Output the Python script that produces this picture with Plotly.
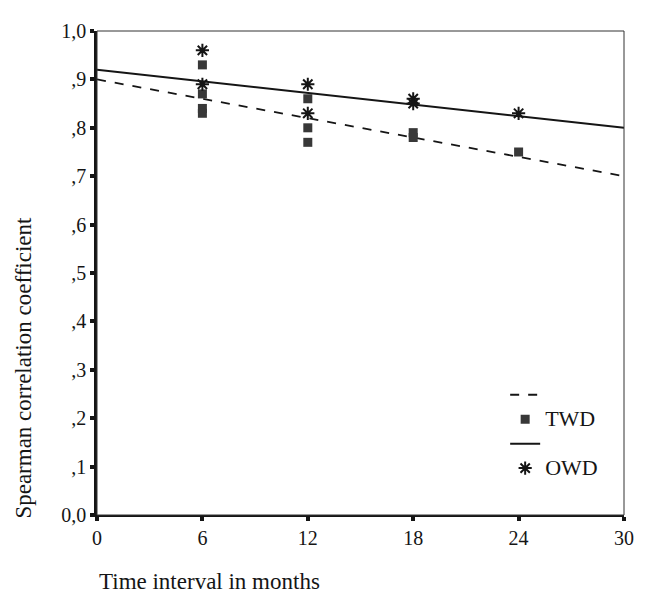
import plotly.graph_objects as go

# Data
twd_x = [6, 6, 6, 6, 12, 12, 12, 18, 18, 24]
twd_y = [0.93, 0.87, 0.84, 0.83, 0.86, 0.80, 0.77, 0.79, 0.78, 0.75]
owd_x = [6, 6, 12, 12, 18, 18, 24]
owd_y = [0.96, 0.89, 0.89, 0.83, 0.86, 0.85, 0.83]
fit_x = [0, 30]
twd_fit_y = [0.90, 0.70]
owd_fit_y = [0.92, 0.80]

x_ticks = [0, 6, 12, 18, 24, 30]
y_ticks = [0.0, 0.1, 0.2, 0.3, 0.4, 0.5, 0.6, 0.7, 0.8, 0.9, 1.0]
y_ticktext = ["0,0", ",1", ",2", ",3", ",4", ",5", ",6", ",7", ",8", ",9", "1,0"]

FONT = "Liberation Serif, Times New Roman, serif"
INK = "#151515"

fig = go.Figure()
fig.add_trace(go.Scatter(x=fit_x, y=twd_fit_y, mode="lines", name=" ",
                         line=dict(color=INK, width=1.8, dash="dash")))
fig.add_trace(go.Scatter(x=twd_x, y=twd_y, mode="markers",
                         name='<span style="font-size:22px">TWD</span>',
                         marker=dict(symbol="square", size=9, color="#383838",
                                     line=dict(width=0))))
fig.add_trace(go.Scatter(x=fit_x, y=owd_fit_y, mode="lines", name="  ",
                         line=dict(color=INK, width=2)))
fig.add_trace(go.Scatter(x=owd_x, y=owd_y, mode="markers",
                         name='<span style="font-size:22px">OWD</span>',
                         marker=dict(symbol="asterisk-open", size=11, color=INK,
                                     line=dict(width=2, color=INK))))

fig.update_layout(
    width=638, height=592,
    margin=dict(l=89, r=17, t=14, b=85),
    paper_bgcolor="white", plot_bgcolor="white",
    font=dict(family=FONT, size=20, color=INK),
    showlegend=True,
    legend=dict(x=0.7745, y=0.284, xanchor="left", yanchor="top",
                bgcolor="rgba(0,0,0,0)", font=dict(family=FONT, size=16.5),
                tracegroupgap=0, itemwidth=30),
    xaxis=dict(range=[0, 30], tickvals=x_ticks, ticktext=[str(v) for v in x_ticks],
               showgrid=False, zeroline=False, showline=True, linecolor=INK,
               linewidth=2, ticks="outside", ticklen=4, tickwidth=4, tickcolor=INK,
               tickfont=dict(family=FONT, size=20)),
    yaxis=dict(range=[0, 1.0], tickvals=y_ticks, ticktext=y_ticktext,
               showgrid=False, zeroline=False, showline=True, linecolor=INK,
               linewidth=2.5, ticks="outside", ticklen=4, tickwidth=4, tickcolor=INK,
               tickfont=dict(family=FONT, size=20)),
    shapes=[dict(type="rect", xref="paper", yref="paper", x0=0, y0=0, x1=1, y1=1,
                 line=dict(color="#333", width=1))],
    annotations=[
        dict(text="Spearman correlation coefficient", xref="paper", yref="paper",
             x=-0.139, y=0.304, xanchor="center", yanchor="middle", textangle=-90,
             showarrow=False, font=dict(family=FONT, size=23)),
        dict(text="Time interval in months", xref="paper", yref="paper",
             x=0.0, y=-0.138, xanchor="left", yanchor="middle",
             showarrow=False, font=dict(family=FONT, size=23)),
    ],
)

fig.write_html("out.html")
